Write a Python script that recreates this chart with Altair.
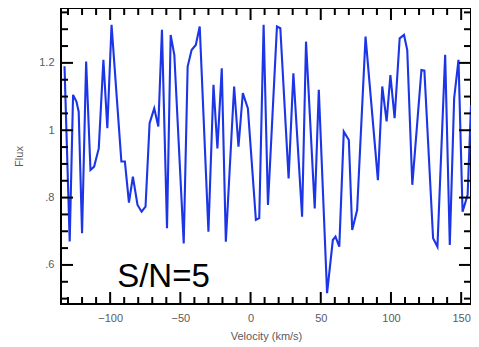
import altair as alt
import pandas as pd

# Spectrum
velocity = [-132.5, -128.8, -126.4, -124.0, -122.4, -120.0, -117.1, -114.0, -111.4, -108.1,
            -104.8, -102.0, -99.0, -92.0, -89.5, -86.6, -83.8, -80.5, -77.6, -74.8,
            -71.9, -68.6, -65.7, -63.1, -59.5, -56.9, -54.3, -47.6, -44.8, -42.0,
            -39.0, -36.2, -30.0, -26.4, -23.6, -20.5, -17.6, -11.7, -8.6, -5.5,
            -1.9, 3.8, 6.2, 9.3, 12.4, 18.8, 21.2, 27.1, 30.5, 36.7,
            39.5, 45.7, 48.6, 54.5, 58.6, 60.5, 63.2, 66.4, 70.0, 72.4,
            75.9, 81.9, 90.7, 93.8, 96.9, 99.6, 102.6, 106.2, 109.3, 111.6,
            115.2, 121.7, 123.8, 130.0, 133.1, 138.6, 141.9, 145.0, 148.1, 151.0,
            154.6, 157.0, 160.0, 162.4]
flux = [1.19, 0.67, 1.105, 1.085, 1.055, 0.694, 1.204, 0.882, 0.892, 0.946,
        1.209, 1.006, 1.313, 0.907, 0.907, 0.785, 0.862, 0.778, 0.758, 0.773,
        1.021, 1.065, 1.011, 1.298, 0.709, 1.283, 1.224, 0.664, 1.189, 1.238,
        1.253, 1.308, 0.699, 1.135, 0.946, 1.184, 0.669, 1.130, 0.951, 1.110,
        1.065, 0.734, 0.739, 1.313, 0.778, 1.308, 1.303, 0.857, 1.169, 0.743,
        1.263, 0.768, 1.120, 0.516, 0.674, 0.684, 0.654, 0.996, 0.971, 0.704,
        0.763, 1.278, 0.852, 1.130, 1.026, 1.164, 1.036, 1.273, 1.283, 1.238,
        0.838, 1.179, 1.177, 0.679, 0.654, 1.224, 0.659, 1.095, 1.209, 0.758,
        0.808, 1.075, 0.986, 1.001]

x_major = [-100, -50, 0, 50, 100, 150]
x_minor = [-130, -120, -110, -90, -80, -70, -60, -40, -30, -20, -10,
           10, 20, 30, 40, 60, 70, 80, 90, 110, 120, 130, 140]
y_major = [0.6, 0.8, 1.0, 1.2]
y_minor = [0.5, 0.55, 0.65, 0.7, 0.75, 0.85, 0.9, 0.95, 1.05, 1.1, 1.15, 1.25, 1.3, 1.35]

note_text = ["S/N=5"]
note_v = [-95.0]
note_f = [0.535]

W, H = 410, 296
MAJ, MIN = 12, 7
xs = alt.Scale(domain=[-135, 157], nice=False, zero=False)
ys = alt.Scale(domain=[0.484, 1.363], nice=False, zero=False)

x_axis = alt.Axis(values=x_major, ticks=False, domain=False, grid=False,
                  format="d", labelPadding=8, titlePadding=7, title="Velocity (km/s)")
y_axis = alt.Axis(values=y_major, ticks=False, domain=False, grid=False,
                  labelPadding=7, titlePadding=14, title="Flux",
                  labelExpr="datum.value < 1 ? substring(format(datum.value, '.1f'), 1) : (datum.value == 1 ? '1' : format(datum.value, '.1f'))")

def X():
    return alt.X("v:Q", scale=xs, axis=x_axis)

def Y():
    return alt.Y("f:Q", scale=ys, axis=y_axis)

df = pd.DataFrame({"v": velocity, "f": flux})

line = alt.Chart(df).mark_line(color="#1c35e6", strokeWidth=2.1, clip=True).encode(x=X(), y=Y())

def xticks(vals, length):
    d = pd.DataFrame({"v": vals})
    bot = alt.Chart(d).mark_rule(color="black", strokeWidth=2).encode(
        x=X(), y=alt.value(H), y2=alt.value(H - length))
    top = alt.Chart(d).mark_rule(color="black", strokeWidth=2).encode(
        x=X(), y=alt.value(0), y2=alt.value(length))
    return [bot, top]

def yticks(vals, length):
    d = pd.DataFrame({"f": vals})
    left = alt.Chart(d).mark_rule(color="black", strokeWidth=2).encode(
        y=Y(), x=alt.value(0), x2=alt.value(length))
    right = alt.Chart(d).mark_rule(color="black", strokeWidth=2).encode(
        y=Y(), x=alt.value(W), x2=alt.value(W - length))
    return [left, right]

note = alt.Chart(pd.DataFrame({"v": note_v, "f": note_f, "t": note_text})).mark_text(
    font="Liberation Sans", fontSize=33, color="black", align="left", baseline="alphabetic"
).encode(x=X(), y=Y(), text="t:N")

layers = [line] + xticks(x_major, MAJ) + xticks(x_minor, MIN) + yticks(y_major, MAJ) + yticks(y_minor, MIN) + [note]

chart = alt.layer(*layers).properties(
    width=W, height=H,
    autosize=alt.AutoSizeParams(type="none"),
    padding={"left": 53, "top": 0, "right": 0, "bottom": 40},
).configure_view(
    stroke="black", strokeWidth=2
).configure_axis(
    labelFont="Liberation Sans", labelFontSize=11, labelColor="#5a5a5a",
    titleFont="Liberation Sans", titleFontSize=11, titleColor="#5a5a5a", titleFontWeight="normal",
)

chart.save("out.html", embed_options={"renderer": "svg", "actions": False})
